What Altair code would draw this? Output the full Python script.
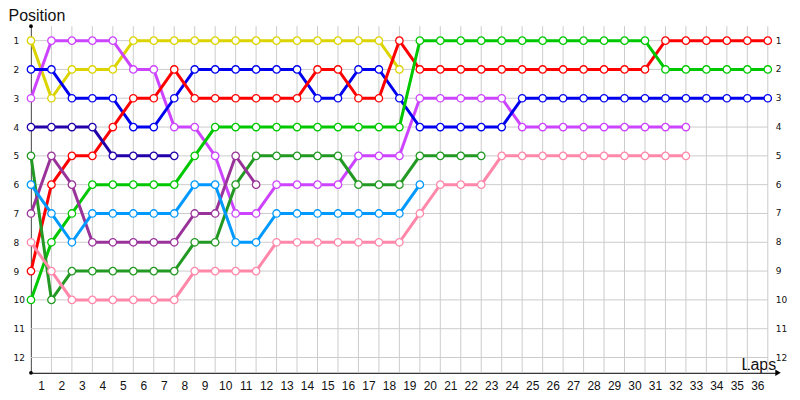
import altair as alt
import pandas as pd

# ---- data (position per lap, lap 0 = grid) ----
series_names = ["Yellow", "Magenta", "Blue", "Red", "Indigo", "Green",
                "DarkGreen", "Purple", "LightBlue", "Pink"]
series_colors = ["#dcd400", "#cc44ff", "#0000ee", "#ff0000", "#2200aa",
                 "#00c800", "#229922", "#993399", "#0099ff", "#ff88aa"]

yellow = [1, 3, 2, 2, 2, 1, 1, 1, 1, 1, 1, 1, 1, 1, 1, 1, 1, 1, 2]
magenta = [3, 1, 1, 1, 1, 2, 2, 4, 4, 5, 7, 7, 6, 6, 6, 6, 5, 5, 5, 3, 3, 3, 3, 3,
           4, 4, 4, 4, 4, 4, 4, 4, 4]
blue = [2, 2, 3, 3, 3, 4, 4, 3, 2, 2, 2, 2, 2, 2, 3, 3, 2, 2, 3, 4, 4, 4, 4, 4,
        3, 3, 3, 3, 3, 3, 3, 3, 3, 3, 3, 3, 3]
red = [9, 6, 5, 5, 4, 3, 3, 2, 3, 3, 3, 3, 3, 3, 2, 2, 3, 3, 1, 2, 2, 2, 2, 2,
       2, 2, 2, 2, 2, 2, 2, 1, 1, 1, 1, 1, 1]
indigo = [4, 4, 4, 4, 5, 5, 5, 5]
green = [10, 8, 7, 6, 6, 6, 6, 6, 5, 4, 4, 4, 4, 4, 4, 4, 4, 4, 4, 1, 1, 1, 1, 1,
         1, 1, 1, 1, 1, 1, 1, 2, 2, 2, 2, 2, 2]
darkgreen = [5, 10, 9, 9, 9, 9, 9, 9, 8, 8, 6, 5, 5, 5, 5, 5, 6, 6, 6, 5, 5, 5, 5]
purple = [7, 5, 6, 8, 8, 8, 8, 8, 7, 7, 5, 6]
lightblue = [6, 7, 8, 7, 7, 7, 7, 7, 6, 6, 8, 8, 7, 7, 7, 7, 7, 7, 7, 6]
pink = [8, 9, 10, 10, 10, 10, 10, 10, 9, 9, 9, 9, 8, 8, 8, 8, 8, 8, 8, 7, 6, 6, 6,
        5, 5, 5, 5, 5, 5, 5, 5, 5, 5]

all_series = [yellow, magenta, blue, red, indigo, green, darkgreen, purple,
              lightblue, pink]

lap_grid = list(range(0, 37))          # vertical grid lines
lap_tick_values = list(range(0, 36))   # label k+1 drawn between lap k and k+1
positions = list(range(1, 13))

rows = []
for name, vals in zip(series_names, all_series):
    for lap, pos in enumerate(vals):
        rows.append({"series": name, "lap": lap, "pos": pos})
df = pd.DataFrame(rows)

grid_v = pd.DataFrame({"lap": lap_grid})
grid_h = pd.DataFrame({"pos": positions})

X_MAX = 36.5
Y_MIN, Y_MAX = 0.5, 12.53

xscale = alt.Scale(domain=[0, X_MAX], nice=False, zero=False)
yscale = alt.Scale(domain=[Y_MIN, Y_MAX], reverse=True, nice=False, zero=False)
cscale = alt.Scale(domain=series_names, range=series_colors)

x_axis = alt.Axis(values=lap_tick_values, tickCount=len(lap_tick_values),
                  labelExpr="'' + (datum.value + 1)",
                  labelOffset=10, labelFlush=False, labelOverlap=False,
                  ticks=False, grid=False, domainColor="black", domainWidth=1,
                  labelFont="Liberation Sans", labelFontSize=12, labelColor="#111",
                  labelPadding=8,
                  title="Laps", titleX=711, titleY=-3, titleAlign="left",
                  titleBaseline="alphabetic", titleFont="Liberation Sans",
                  titleFontSize=16, titleFontWeight="normal", titleColor="#111")
y_axis = alt.Axis(values=positions, tickCount=len(positions),
                  labelAlign="left", labelPadding=18,
                  labelBaseline="middle", labelOverlap=False, labelFlush=False,
                  ticks=False, grid=False, domainColor="black", domainWidth=1,
                  labelFont="DejaVu Sans", labelFontSize=9, labelColor="#111",
                  title="Position", titleAngle=0, titleX=-23, titleY=-6,
                  titleAlign="left", titleBaseline="alphabetic",
                  titleFont="Liberation Sans", titleFontSize=16,
                  titleFontWeight="normal", titleColor="#111")

X = lambda: alt.X("lap:Q", scale=xscale, axis=x_axis)
Y = lambda: alt.Y("pos:Q", scale=yscale, axis=y_axis)

vgrid = alt.Chart(grid_v).mark_rule(color="#cccccc", strokeWidth=1).encode(
    x=X()
)
hgrid = alt.Chart(grid_h).mark_rule(color="#cccccc", strokeWidth=1).encode(
    y=Y(),
    x=alt.datum(0),
    x2=alt.datum(36),
)
right_labels = alt.Chart(grid_h).mark_text(
    align="left", baseline="middle", dx=8, font="DejaVu Sans", fontSize=9,
    color="#111"
).encode(
    y=Y(),
    x=alt.datum(36),
    text=alt.Text("pos:Q"),
)

lines = alt.Chart(df).mark_line(strokeWidth=3).encode(
    x=X(),
    y=Y(),
    color=alt.Color("series:N", scale=cscale, legend=None),
    order="lap:Q",
)
points = alt.Chart(df).mark_point(
    shape="circle", filled=True, fill="white", strokeWidth=1.3, size=55,
    opacity=1
).encode(
    x=X(),
    y=Y(),
    stroke=alt.Stroke("series:N", scale=cscale, legend=None),
)

dots = alt.Chart(pd.DataFrame({"lap": [0, 0], "pos": [Y_MIN, Y_MAX]})).mark_point(
    shape="circle", filled=True, color="black", size=14, opacity=1
).encode(
    x=X(),
    y=Y(),
)
arrow = alt.Chart(pd.DataFrame({"lap": [X_MAX], "pos": [Y_MAX]})).mark_point(
    shape="triangle-right", filled=True, color="black", size=40, opacity=1, dx=-5
).encode(
    x=X(),
    y=Y(),
)

chart = alt.layer(vgrid, hgrid, right_labels, lines, points, dots, arrow).properties(
    width=748, height=347,
    autosize="none",
    padding={"left": 23, "top": 18, "right": 14, "bottom": 24},
    background="white",
).configure_view(stroke=None).configure_axis(labelOverlap=False)

chart.save("out.html", embed_options={"renderer": "svg", "actions": False})
